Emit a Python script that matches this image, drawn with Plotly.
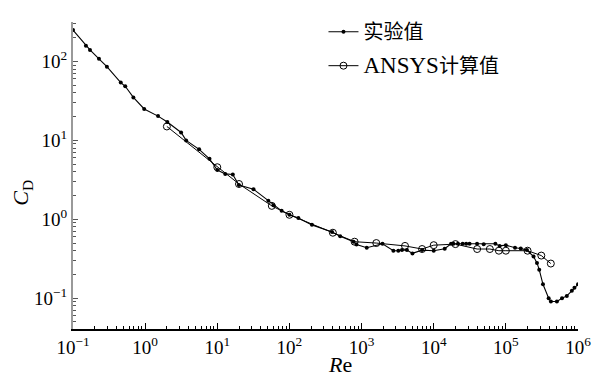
import plotly.graph_objects as go

# Experimental values (实验值)
exp_re = [0.1, 0.151, 0.172, 0.229, 0.295, 0.459, 0.53, 0.687, 0.97, 1.51, 2.03, 3.15, 3.7,
          5.6, 7.8, 10, 12.9, 16.4, 19.9, 31.8, 51, 60, 78, 100, 133, 205, 390, 505, 775, 850,
          1180, 1950, 2760, 3230, 3630, 4250, 5070, 6900, 10000, 14200, 17400, 18700, 21700,
          25200, 28200, 31400, 39900, 49300, 71600, 81900, 100000, 134000, 161000, 196000,
          242000, 270000, 290000, 327000, 392000, 421000, 510000, 600000, 700000, 822000,
          893000, 1000000]
exp_cd = [250, 158, 140, 108, 86, 54, 48.5, 35, 25, 20.3, 17.1, 12.6, 10,
          7.7, 5.85, 4.2, 3.76, 3.7, 2.72, 2.4, 1.72, 1.51, 1.28, 1.14, 1.04, 0.85, 0.69, 0.61, 0.52, 0.48,
          0.436, 0.49, 0.40, 0.40, 0.407, 0.407, 0.37, 0.407, 0.40, 0.424, 0.49, 0.49, 0.49,
          0.49, 0.49, 0.49, 0.49, 0.484, 0.49, 0.46, 0.47, 0.436, 0.427, 0.407,
          0.337, 0.28, 0.23, 0.15, 0.10, 0.091, 0.091, 0.10, 0.107, 0.124,
          0.136, 0.15]

# ANSYS computed values (ANSYS计算值)
ans_re = [2.0, 10, 20, 57, 100, 400, 800, 1600, 4000, 6900, 10000, 20000, 40000, 60000,
          80000, 100000, 200000, 310000, 420000]
ans_cd = [15, 4.57, 2.8, 1.48, 1.14, 0.676, 0.52, 0.50, 0.46, 0.42, 0.47, 0.485, 0.42, 0.42,
          0.40, 0.40, 0.40, 0.347, 0.275]

x_ticks = [0.1, 1, 10, 100, 1000, 10000, 100000, 1000000]
x_ticktext = ["10<sup>−1</sup>", "10<sup>0</sup>", "10<sup>1</sup>", "10<sup>2</sup>",
              "10<sup>3</sup>", "10<sup>4</sup>", "10<sup>5</sup>", "10<sup>6</sup>"]
y_ticks = [0.1, 1, 10, 100]
y_ticktext = ["10<sup>−1</sup>", "10<sup>0</sup>", "10<sup>1</sup>", "10<sup>2</sup>"]

FONT = "Liberation Serif, Times New Roman, Noto Sans CJK SC, serif"

fig = go.Figure()
fig.add_trace(go.Scatter(
    x=exp_re, y=exp_cd, mode="lines+markers", name="实验值",
    legendgroup="exp",
    line=dict(color="black", width=1.1),
    marker=dict(symbol="circle", size=4, color="black"),
))
fig.add_trace(go.Scatter(
    x=ans_re, y=ans_cd, mode="lines+markers",
    name='<span style="font-size:23px">ANSYS</span>计算值',
    legendgroup="ans",
    line=dict(color="black", width=1.0),
    marker=dict(symbol="circle-open", size=7, color="black", line=dict(width=1)),
))

fig.update_layout(
    width=605, height=379,
    margin=dict(l=73, r=27, t=16, b=50),
    paper_bgcolor="white", plot_bgcolor="white",
    font=dict(family=FONT, size=18, color="black"),
    showlegend=True,
    legend=dict(
        x=0.496, y=1.032, xanchor="left", yanchor="top",
        bgcolor="rgba(0,0,0,0)",
        font=dict(family=FONT, size=20, color="black"),
        itemwidth=30, tracegroupgap=5,
    ),
    xaxis=dict(
        type="log", range=[-1, 6],
        tickmode="array", tickvals=x_ticks, ticktext=x_ticktext,
        ticks="inside", ticklen=6, tickwidth=1, tickcolor="black",
        showline=True, linecolor="black", linewidth=1.5,
        showgrid=False, zeroline=False, mirror=False,
        tickfont=dict(family=FONT, size=19),
        minor=dict(ticks="inside", ticklen=3, tickcolor="black", dtick="D1", showgrid=False),
    ),
    yaxis=dict(
        type="log", range=[-1.39, 2.50],
        tickmode="array", tickvals=y_ticks, ticktext=y_ticktext,
        ticks="inside", ticklen=5, tickwidth=1, tickcolor="#555",
        showline=True, linecolor="#999", linewidth=2,
        showgrid=False, zeroline=False, mirror=False,
        tickfont=dict(family=FONT, size=19),
        minor=dict(ticks="inside", ticklen=3, tickcolor="#555", dtick="D1", showgrid=False),
    ),
    annotations=[
        dict(text="<i>C</i><sub>D</sub>", xref="paper", yref="paper",
             x=-0.101, y=0.444, xanchor="center", yanchor="middle",
             textangle=-90, showarrow=False,
             font=dict(family=FONT, size=22)),
        dict(text="<i>R</i>e", xref="paper", yref="paper",
             x=0.529, y=-0.117, xanchor="center", yanchor="middle", showarrow=False,
             font=dict(family=FONT, size=22)),
    ],
)

fig.write_html("out.html", config={"displayModeBar": False},
               post_script="document.body.style.margin='0';")
